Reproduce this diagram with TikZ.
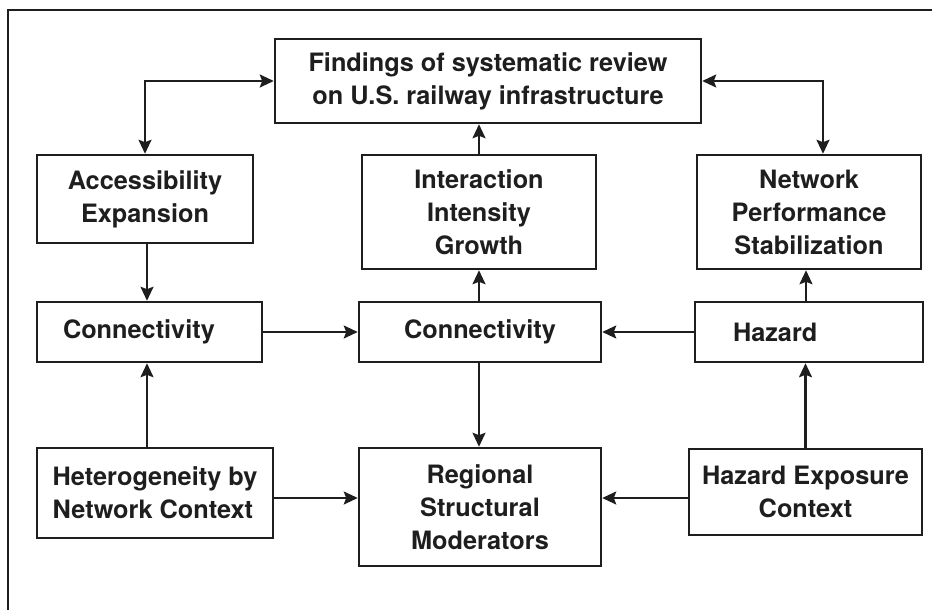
\documentclass[tikz,border=0pt]{standalone}
\usepackage{fontspec}
\setmainfont{TeX Gyre Heros}
\usetikzlibrary{arrows.meta}
\definecolor{ink}{HTML}{1E1E1E}
\begin{document}
\begin{tikzpicture}[x=1pt,y=-1pt,
  box/.style={draw=ink, line width=2.5pt, rectangle, align=center, inner sep=0pt,
    text=ink, font=\fontsize{25.3}{33}\selectfont\bfseries},
  arr/.style={draw=ink, line width=2.1pt, -{Stealth[length=14pt,width=13pt,inset=2.5pt]}},
  arrb/.style={draw=ink, line width=2.1pt, {Stealth[length=14pt,width=13pt,inset=2.5pt]}-{Stealth[length=14pt,width=13pt,inset=2.5pt]}}
]
\useasboundingbox (0,0) rectangle (932,610);
% outer frame
\draw[ink, line width=1.5pt] (8,612) -- (8,10) -- (934,10);

% boxes
\node[box, minimum width=426pt, minimum height=84pt] (find) at (488,81)
  {Findings of systematic review\\on U.S. railway infrastructure};
\node[box, minimum width=216pt, minimum height=88pt] (acc) at (145,199)
  {Accessibility\\Expansion};
\node[box, minimum width=234pt, minimum height=114pt] (inter) at (479,212)
  {Interaction\\Intensity\\Growth};
\node[box, minimum width=224pt, minimum height=114pt] (netp) at (809,212)
  {Network\\Performance\\Stabilization};
\node[box, minimum height=60pt, align=left, inner xsep=26pt, text width=173pt] (conL) at (149.5,332)
  {Connectivity};
\node[box, minimum width=242pt, minimum height=60pt] (conC) at (480,332)
  {Connectivity};
\node[box, minimum height=60pt, align=left, inner xsep=38pt, text width=152pt] (haz) at (809,332)
  {Hazard};
\node[box, minimum width=236pt, minimum height=90pt, align=left] (het) at (155,493)
  {Heterogeneity by\\Network Context};
\node[box, minimum width=242pt, minimum height=118pt] (reg) at (480,507)
  {Regional\\Structural\\Moderators};
\node[box, minimum width=233pt, minimum height=86pt] (hexp) at (805.5,492)
  {Hazard Exposure\\Context};

% connectors
\draw[arrb] (acc.north) |- (find.west);
\draw[arrb] ([xshift=14pt]netp.north) |- (find.east);
\draw[arr] (inter.north) -- (inter.north |- find.south);
\draw[arr] ([xshift=2pt]acc.south) -- ([xshift=2pt]acc.south |- conL.north);
\draw[arr] (conC.north -| inter) -- (inter.south);
\draw[arr] ([xshift=-3pt]haz.north) -- ([xshift=-3pt]netp.south);
\draw[arr] (conL.east) -- (conC.west);
\draw[arr] (haz.west) -- (conC.east);
\draw[arr] (conC.south -| inter) -- (reg.north -| inter);
\draw[arr] ([xshift=-8pt]het.north) -- ([xshift=-8pt]het.north |- conL.south);
\draw[arr] ([yshift=-5pt]het.east) -- ([yshift=-5pt]het.east -| reg.west);
\draw[arr] ([yshift=-6pt]hexp.west) -- ([yshift=-6pt]hexp.west -| reg.east);
\draw[arr] (hexp.north) -- (hexp.north |- haz.south);
\end{tikzpicture}
\end{document}
